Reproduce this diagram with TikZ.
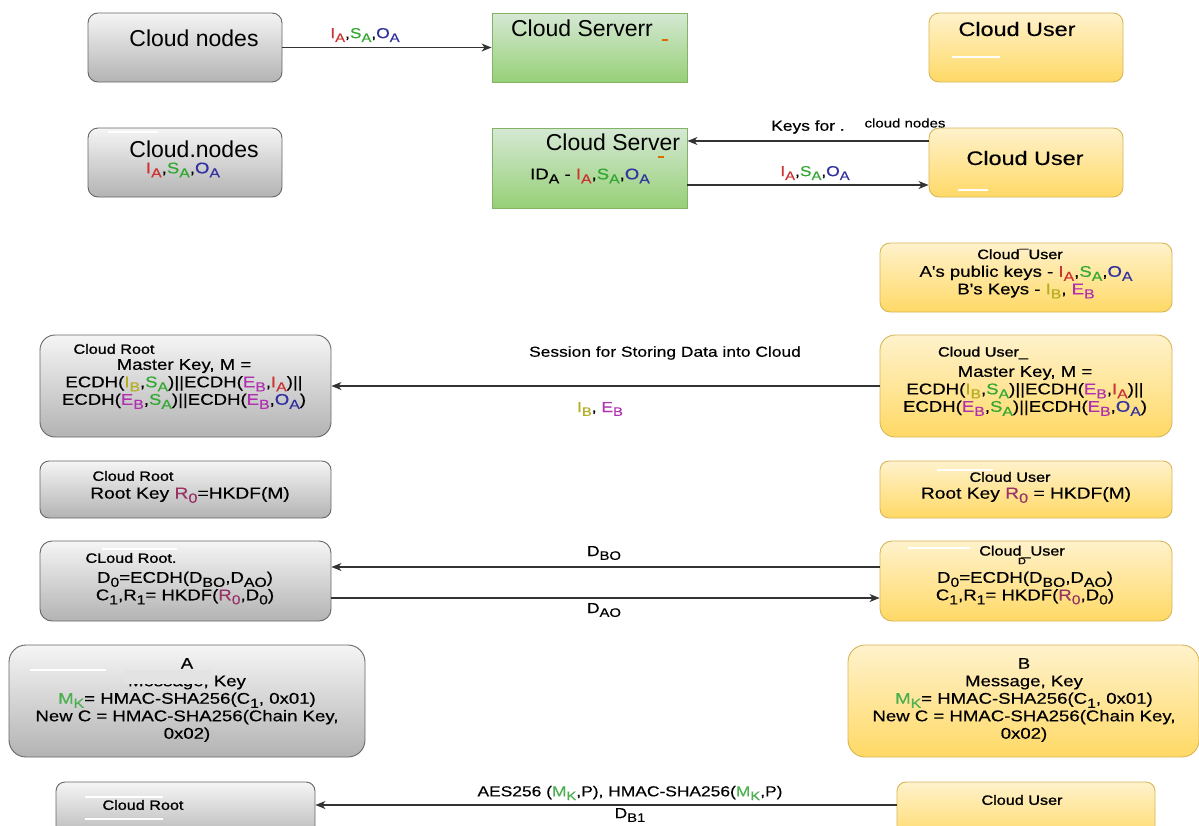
\documentclass[tikz,border=0pt]{standalone}
\usepackage{fontspec}
\setmainfont{Liberation Sans}
\newfontfamily\widesans{Liberation Sans}[FakeStretch=1.2, FakeBold=0.4]
\newfontfamily\headsans{Liberation Sans}[FakeStretch=1.2, FakeBold=1.2]
\usepackage{xcolor}
\usetikzlibrary{positioning, arrows.meta}

\definecolor{grayline}{HTML}{666666}
\definecolor{graytop}{HTML}{F5F5F5}
\definecolor{graybot}{HTML}{B3B3B3}
\definecolor{yelline}{HTML}{D6B656}
\definecolor{yeltop}{HTML}{FFF2CC}
\definecolor{yelbot}{HTML}{FFD966}
\definecolor{grnline}{HTML}{82B366}
\definecolor{grntop}{HTML}{D5E8D4}
\definecolor{grnbot}{HTML}{97D077}
\definecolor{keyred}{HTML}{CC3333}
\definecolor{keygreen}{HTML}{33A833}
\definecolor{keyblue}{HTML}{3333A0}
\definecolor{keyolive}{HTML}{B5AD22}
\definecolor{keymag}{HTML}{B030B0}
\definecolor{keyplum}{HTML}{993366}
\definecolor{macgreen}{HTML}{4CAF50}
\definecolor{erase}{HTML}{E3E3E3}

\newcommand{\dn}[1]{\raisebox{-0.5ex}{\scalebox{0.85}{#1}}}
\newcommand{\IA}{\textcolor{keyred}{I\dn{A}}}
\newcommand{\SA}{\textcolor{keygreen}{S\dn{A}}}
\newcommand{\OA}{\textcolor{keyblue}{O\dn{A}}}
\newcommand{\IB}{\textcolor{keyolive}{I\dn{B}}}
\newcommand{\EB}{\textcolor{keymag}{E\dn{B}}}
\newcommand{\Rz}{\textcolor{keyplum}{R\dn{0}}}
\newcommand{\MK}{\textcolor{macgreen}{M\dn{K}}}

\begin{document}
\begin{tikzpicture}[x=1pt, y=-1pt,
  gbox/.style={draw=grayline, line width=0.9pt, top color=graytop, bottom color=graybot, rounded corners=#1},
  gbox/.default=10pt,
  ybox/.style={draw=yelline, line width=0.9pt, top color=yeltop, bottom color=yelbot, rounded corners=#1},
  ybox/.default=10pt,
  sbox/.style={draw=grnline, line width=0.9pt, top color=grntop, bottom color=grnbot},
  big/.style={font=\fontsize{23}{27}\selectfont, inner sep=0pt},
  ttl/.style={font=\widesans\fontsize{19.5}{23}\selectfont, inner sep=0pt},
  hdr/.style={font=\headsans\fontsize{13.5}{16}\selectfont, inner sep=0pt},
  txt/.style={font=\widesans\fontsize{15.5}{17.5}\selectfont, inner sep=0pt, align=center},
  lbl/.style={font=\widesans\fontsize{14.5}{17}\selectfont, inner sep=0pt},
  flow/.style={-{Stealth[length=10pt, width=8pt, inset=3pt]}, line width=1.1pt, draw=black!80},
  scratch/.style={draw=white, line width=1.3pt},
  blip/.style={draw=orange!85!black, line width=2pt}
]
  \useasboundingbox (0,0) rectangle (1199,825);
  \clip (0,0) rectangle (1199,825);

  \node[gbox, minimum width=194pt, minimum height=69pt] (nodesA) at (185,47.5) {};
  \node[big] (nodesA-t) at (194,38) {Cloud nodes};
  \node[sbox, minimum width=195pt, minimum height=69pt] (srvA) at (589.5,47.5) {};
  \node[big] (srvA-t) at (582,28) {Cloud Serverr};
  \draw[blip] (662,40) -- (668,40);
  \node[ybox, minimum width=194pt, minimum height=69pt] (usrA) at (1026,47.5) {};
  \node[ttl] (usrA-t) at (1017,29) {Cloud User};
  \draw[scratch] (952,57) -- (1000,57);
  \draw[flow] (nodesA) -- (srvA);
  \node[lbl] (a1-l) at (365,35) {\IA,\SA,\OA};

  \node[gbox, minimum width=194pt, minimum height=69pt] (nodesB) at (185,162.5) {};
  \draw[scratch] (108,132) -- (158,132);
  \node[big] (nodesB-t) at (194,149) {Cloud.nodes};
  \node[txt] (nodesB-k) at (183,170) {\IA,\SA,\OA};
  \node[sbox, minimum width=195pt, minimum height=80pt] (srvB) at (589.5,168) {};
  \node[big] (srvB-t) at (613,142) {Cloud Server};
  \draw[blip] (658,157) -- (664,157);
  \node[txt] (srvB-k) at (590,176) {ID\dn{A} - \IA,\SA,\OA};
  \node[ybox, minimum width=194pt, minimum height=69pt] (usrB) at (1026,162.5) {};
  \node[ttl] (usrB-t) at (1025,158) {Cloud User};
  \draw[scratch] (958,190) -- (988,190);
  \draw[flow] ([yshift=21.5pt]usrB.west) -- ([yshift=21.5pt]usrB.west -| srvB.east);
  \node[lbl] (a2-l) at (808,127) {Keys for .};
  \node[font=\widesans\fontsize{12.5}{14}\selectfont, inner sep=0pt] (a2-m) at (905,123) {cloud nodes};
  \draw[flow] ([yshift=-17pt]srvB.east) -- ([yshift=-17pt]srvB.east -| usrB.west);
  \node[lbl] (a3-l) at (815,173) {\IA,\SA,\OA};

  \node[ybox, minimum width=292pt, minimum height=69pt] (usrC) at (1026,277.5) {};
  \node[hdr] (usrC-t) at (1020,254) {Cloud¯User};
  \node[txt] (usrC-k) at (1026,282) {A's public keys - \IA,\SA,\OA\\B's Keys - \IB, \EB};

  \node[gbox=15pt, minimum width=291pt, minimum height=102pt] (rootD) at (185.5,386) {};
  \node[hdr] (rootD-t) at (114,349) {Cloud Root};
  \node[txt] (rootD-k) at (184,384) {Master Key, M =\\ECDH(\IB,\SA)||ECDH(\EB,\IA)||\\ECDH(\EB,\SA)||ECDH(\EB,\OA)};
  \node[ybox=15pt, minimum width=292pt, minimum height=102pt] (usrD) at (1026,386) {};
  \node[hdr] (usrD-t) at (983,353) {Cloud User\_};
  \node[txt] (usrD-k) at (1025,391) {Master Key, M =\\ECDH(\IB,\SA)||ECDH(\EB,\IA)||\\ECDH(\EB,\SA)||ECDH(\EB,\OA)};
  \draw[flow] (usrD) -- (rootD);
  \node[lbl] (a4-l) at (665,353) {Session for Storing Data into Cloud};
  \node[lbl] (a4-k) at (600,409) {\IB, \EB};

  \node[gbox=9pt, minimum width=291pt, minimum height=57pt] (rootE) at (185.5,489.5) {};
  \node[hdr] (rootE-t) at (133,476) {Cloud Root};
  \node[txt, font=\widesans\fontsize{16}{18}\selectfont] (rootE-k) at (190,495) {Root Key \Rz=HKDF(M)};
  \node[ybox=9pt, minimum width=292pt, minimum height=57pt] (usrE) at (1026,489.5) {};
  \draw[scratch] (937,470) -- (993,470);
  \node[hdr] (usrE-t) at (1010,477) {Cloud User};
  \node[txt, font=\widesans\fontsize{16}{18}\selectfont] (usrE-k) at (1026,495) {Root Key \Rz{} = HKDF(M)};

  \node[gbox=12pt, minimum width=291pt, minimum height=80pt] (rootF) at (185.5,581) {};
  \draw[scratch] (102,549) -- (177,549);
  \node[hdr] (rootF-t) at (131,558) {CLoud Root.};
  \node[txt] (rootF-k) at (185,588) {D\dn{0}=ECDH(D\dn{BO},D\dn{AO})\\C\dn{1},R\dn{1}= HKDF(\Rz,D\dn{0})};
  \node[ybox=12pt, minimum width=292pt, minimum height=80pt] (usrF) at (1026,581) {};
  \draw[scratch] (908,548) -- (970,548);
  \node[hdr] (usrF-t) at (1022,552) {Cloud\_User};
  \node[font=\widesans\fontsize{9}{9}\selectfont, inner sep=0pt] (usrF-d) at (1022,561) {D};
  \node[txt] (usrF-k) at (1025,588) {D\dn{0}=ECDH(D\dn{BO},D\dn{AO})\\C\dn{1},R\dn{1}= HKDF(\Rz,D\dn{0})};
  \draw[flow] ([yshift=14pt]usrF.west) -- ([yshift=14pt]usrF.west -| rootF.east);
  \node[lbl] (a5-l) at (604,553) {D\dn{BO}};
  \draw[flow] ([yshift=-17pt]rootF.east) -- ([yshift=-17pt]rootF.east -| usrF.west);
  \node[lbl] (a6-l) at (604,610) {D\dn{AO}};

  \node[gbox=17pt, minimum width=356pt, minimum height=112pt] (boxA) at (187,701) {};
  \node[txt] (boxA-k) at (187,700) {A\\Message, Key\\\MK= HMAC-SHA256(C\dn{1}, 0x01)\\New C = HMAC-SHA256(Chain Key,\\0x02)};
  \fill[erase] (125,670) rectangle (211,684);
  \draw[scratch] (30,670) -- (106,670);
  \node[ybox=17pt, minimum width=351pt, minimum height=112pt] (boxB) at (1023.5,701) {};
  \node[txt] (boxB-k) at (1024,700) {B\\Message, Key\\\MK= HMAC-SHA256(C\dn{1}, 0x01)\\New C = HMAC-SHA256(Chain Key,\\0x02)};

  \node[gbox=9pt, minimum width=259pt, minimum height=60pt] (rootG) at (185.5,812) {};
  \draw[scratch] (85,797) -- (163,797);
  \draw[scratch] (85,819) -- (163,819);
  \node[hdr] (rootG-t) at (143,805) {Cloud Root};
  \node[ybox=9pt, minimum width=258pt, minimum height=60pt] (usrG) at (1026,812) {};
  \node[hdr] (usrG-t) at (1022,800) {Cloud User};
  \draw[flow] ([yshift=7pt]usrG.west) -- ([yshift=7pt]usrG.west -| rootG.east);
  \node[lbl] (a7-l) at (630,793) {AES256 (\MK,P), HMAC-SHA256(\MK,P)};
  \node[lbl] (a7-k) at (630,815) {D\dn{B1}};
\end{tikzpicture}
\end{document}
